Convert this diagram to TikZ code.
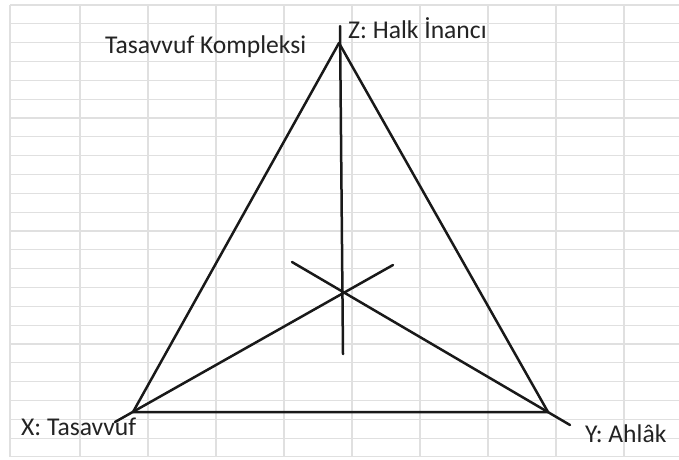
\documentclass[tikz,border=0pt]{standalone}
\usepackage{fontspec}
\setmainfont{Carlito}
\usepackage{tikz}
\usetikzlibrary{positioning,calc}
\definecolor{cellgray}{RGB}{224,224,224}
\definecolor{inkgray}{RGB}{25,25,25}
\definecolor{textgray}{RGB}{35,35,35}

\begin{document}
\begin{tikzpicture}[x=1pt,y=-1pt, every node/.style={font=\fontsize{25.6}{30}\selectfont,text=textgray,inner sep=0pt,anchor=base west},
  cell/.style={cellgray,line width=1.1pt}, edge/.style={inkgray,line width=2.5pt,line cap=round,line join=round}]
\useasboundingbox[fill=white] (0,0) rectangle (679,459);
\foreach \r in {0,...,24} \draw[cell] (10,{5+18.83*\r}) -- (679,{5+18.83*\r});
\draw[cell] (10,5) -- (10,457); \foreach \c in {0,...,8} \draw[cell] ({80+68*\c},5) -- ({80+68*\c},457);
\coordinate (Z) at (339,43); \coordinate (X) at (133,412); \coordinate (Y) at (548,412);
\coordinate (ztop) at (340,26); \coordinate (zfoot) at (343,354);
\coordinate (xtail) at (115,422); \coordinate (xhead) at (393,265);
\coordinate (ytail) at (570,425); \coordinate (yhead) at (292,262);
\node (title) at (105,53) {Tasavvuf Kompleksi};
\node (zlabel) at (348,38) {Z: Halk İnancı};
\node (xlabel) at (21,435) {X: Tasavvuf};
\node (ylabel) at (585,442) {Y: Ahlâk};
\draw[edge] (Z) -- (X) -- (Y) -- cycle; \draw[edge] (ztop) -- (zfoot);
\draw[edge] (xtail) -- (xhead); \draw[edge] (ytail) -- (yhead);
\end{tikzpicture}
\end{document}
